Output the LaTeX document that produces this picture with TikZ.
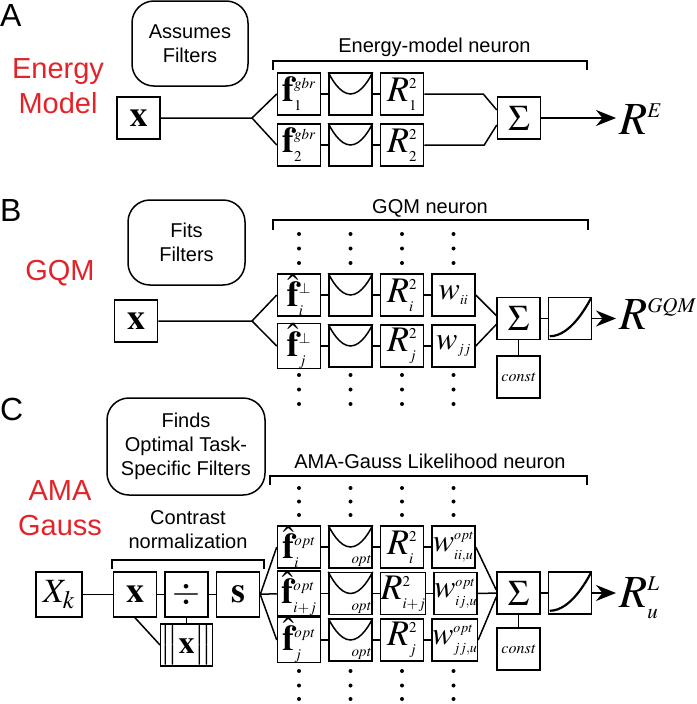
\documentclass[tikz,border=0pt]{standalone}
\usepackage{amsmath}
\usepackage{mathptmx}
\usepackage[no-math]{fontspec}
\setmainfont{Liberation Sans}
\usetikzlibrary{positioning,arrows.meta}
\DeclareMathSizes{36}{36}{15}{11}
\DeclareMathSizes{32}{32}{14}{10}
\DeclareMathSizes{46}{46}{21}{15}
\definecolor{modelred}{RGB}{226,36,42}

\tikzset{
  blk/.style={draw, line width=1.5pt, minimum width=43pt, minimum height=42pt, inner sep=0pt,
    font=\fontsize{36}{36}\selectfont},
  wgt/.style={blk, font=\fontsize{32}{32}\selectfont},
  bubble/.style={draw, line width=1.5pt, rounded corners=22pt, align=center,
    font=\fontsize{20}{24}\selectfont},
  modelname/.style={text=modelred, align=center, font=\fontsize{29}{35}\selectfont},
  panel/.style={anchor=base west, inner sep=0pt, font=\fontsize{32}{32}\selectfont},
  caption/.style={align=center, font=\fontsize{20}{24}\selectfont},
  outp/.style={anchor=base west, inner sep=3pt, font=\fontsize{46}{46}\selectfont},
  small/.style={font=\fontsize{16}{16}\selectfont},
  link/.style={line width=1.5pt},
  outarrow/.style={line width=1.5pt, -{Stealth[length=20pt,width=16pt]}},
}

\begin{document}
\begin{tikzpicture}[x=1pt, y=-1pt, node distance=7pt]
\useasboundingbox (0,0) rectangle (696,704);

% A: energy model
\node[panel] (pA) at (0,27) {A};
\node[modelname] (mA) at (58,86) {Energy\\Model};
\node[bubble, minimum width=116pt, minimum height=85pt] (hA) at (190,43.5) {Assumes\\Filters};
\node[blk] (xA) at (138.5,118) {$\mathbf{x}$};
\node[blk] (fA1) at (299,94) {$\mathbf{f}^{gbr}_{1}$};
\node[blk] (cA1) [right=of fA1] {};
\node[blk] (rA1) [right=of cA1] {$R^{2}_{1}$};
\node[blk] (fA2) at (299,145) {$\mathbf{f}^{gbr}_{2}$};
\node[blk] (cA2) [right=of fA2] {};
\node[blk] (rA2) [right=of cA2] {$R^{2}_{2}$};
\node[blk] (sA) at (519,118) {$\Sigma$};
\node[outp] (oA) at (616,134) {$R^{E}$};
\coordinate (bA) at (252,118);
\node[caption, anchor=base] (tA) at (434.5,52) {Energy-model neuron};
\draw[link] (273,70) |- (587,61) -- (587,70);

\draw[link] (xA) -- (bA) -- (fA1.west);
\draw[link] (bA) -- (fA2.west);
\draw[link] (fA1) -- (cA1) -- (rA1);
\draw[link] (fA2) -- (cA2) -- (rA2);
\draw[link] (rA1.east) -- ++(59pt,0pt) -- ([yshift=8pt]sA.west);
\draw[link] (rA2.east) -- ++(60pt,0pt) -- ([yshift=-7pt]sA.west);
\draw[outarrow] (sA) -- (sA -| oA.west);

% B: GQM
\node[panel] (pB) at (0,221) {B};
\node[modelname, anchor=base] (mB) at (60,280) {GQM};
\node[bubble, minimum width=117pt, minimum height=85pt] (hB) at (186.5,242.5) {Fits\\Filters};
\node[blk] (xB) at (136,321) {$\mathbf{x}$};
\node[blk] (fB1) at (299,295) {$\hat{\mathbf{f}}^{\perp}_{i}$};
\node[blk] (cB1) [right=of fB1] {};
\node[blk] (rB1) [right=of cB1] {$R^{2}_{i}$};
\node[wgt] (wB1) [right=of rB1] {$w_{ii}$};
\node[blk] (fB2) at (299,346) {$\hat{\mathbf{f}}^{\perp}_{j}$};
\node[blk] (cB2) [right=of fB2] {};
\node[blk] (rB2) [right=of cB2] {$R^{2}_{j}$};
\node[wgt] (wB2) [right=of rB2] {$w_{jj}$};
\node[blk] (sB) at (518.5,318.5) {$\Sigma$};
\node[blk] (nB) [right=of sB] {};
\node[blk, small] (kB) [below=15pt of sB] {$\mathit{const}$};
\node[outp] (oB) at (616,329) {$R^{GQM}$};
\coordinate (bB) at (252,321);
\node[caption, anchor=base] (tB) at (430,213) {GQM neuron};
\draw[link] (273,230) |- (588,220) -- (588,230);

\draw[link] (xB) -- (bB) -- (fB1.west);
\draw[link] (bB) -- (fB2.west);
\draw[link] (fB1) -- (cB1) -- (rB1) -- (wB1);
\draw[link] (fB2) -- (cB2) -- (rB2) -- (wB2);
\draw[link] (wB1.east) -- ([yshift=3pt]sB.west);
\draw[link] (wB2.east) -- ([yshift=-6pt]sB.west);
\draw[link] (sB) -- (nB);
\draw[link] (sB) -- (kB);
\draw[outarrow] (nB) -- (nB -| oB.west);
\foreach \c in {fB1,cB1,rB1,wB1}
  \foreach \y in {234,248.5,263,375,389.5,404}
    \fill (\c |- 0,\y) circle (2pt);

% C: AMA-Gauss
\node[panel] (pC) at (0,420) {C};
\node[modelname] (mC) at (60,508) {AMA\\Gauss};
\node[bubble, minimum width=158pt, minimum height=97pt] (hC) at (186,446.5) {Finds\\Optimal Task-\\Specific Filters};
\node[blk, minimum width=46pt, minimum height=45pt, font=\fontsize{34}{34}\selectfont] (kX) at (59,594.5) {$X_{k}$};
\node[blk, minimum height=45pt] (xC) at (135,594.5) {$\mathbf{x}$};
\node[blk, minimum height=45pt] (dC) [right=of xC] {$\div$};
\node[blk, minimum height=45pt] (sC) [right=of dC] {$\mathbf{s}$};
\node[wgt] (nmC) [below=5.5pt of dC] {$\big\|\mathbf{x}\big\|$};
\node[caption] (tN) at (188,530) {Contrast\\normalization};
\draw[link] (112,569) |- (264,560) -- (264,569);

\node[blk] (fC1) at (299,547) {$\hat{\mathbf{f}}^{opt}_{i}$};
\node[blk] (cC1) [right=of fC1] {};
\node[blk] (rC1) [right=of cC1] {$R^{2}_{i}$};
\node[wgt] (wC1) [right=of rC1] {$w^{opt}_{ii,u}$};
\node[blk] (fC2) at (299,593.5) {$\hat{\mathbf{f}}^{opt}_{i+j}$};
\node[blk] (cC2) [right=of fC2] {};
\node[blk] (rC2) [right=of cC2] {$R^{2}_{i+j}$};
\node[wgt] (wC2) [right=of rC2] {$w^{opt}_{ij,u}$};
\node[blk] (fC3) at (299,640) {$\hat{\mathbf{f}}^{opt}_{j}$};
\node[blk] (cC3) [right=of fC3] {};
\node[blk] (rC3) [right=of cC3] {$R^{2}_{j}$};
\node[wgt] (wC3) [right=of rC3] {$w^{opt}_{jj,u}$};
\node[blk] (sgC) at (518.5,593) {$\Sigma$};
\node[blk] (nC) [right=of sgC] {};
\node[blk, small] (kC) [below=12.5pt of sgC] {$\mathit{const}$};
\node[outp] (oC) at (616,607) {$R^{L}_{u}$};
\node[caption, anchor=base] (tC) at (430,468) {AMA-Gauss Likelihood neuron};
\draw[link] (270,485) |- (587,476) -- (587,485);

\draw[link] (kX) -- (xC) -- (dC) -- (sC);
\draw[link] (xC.south) -- (nmC.west);
\draw[link] (dC) -- (nmC);
\draw[link] (sC.east) -- (fC1.west);
\draw[link] (sC) -- (fC2);
\draw[link] (sC.east) -- (fC3.west);
\draw[link] (fC1) -- (cC1) -- (rC1) -- (wC1);
\draw[link] (fC2) -- (cC2) -- (rC2) -- (wC2);
\draw[link] (fC3) -- (cC3) -- (rC3) -- (wC3);
\draw[link] (wC1.east) -- ([yshift=3pt]sgC.west);
\draw[link] (wC2) -- (sgC);
\draw[link] (wC3.east) -- ([yshift=-4pt]sgC.west);
\draw[link] (sgC) -- (nC);
\draw[link] (sgC) -- (kC);
\draw[outarrow] (nC) -- (nC -| oC.west);
\foreach \c in {cC1,cC2,cC3}
  \node[anchor=south east, inner sep=1.5pt, font=\fontsize{15}{15}\selectfont] at (\c.south east) {$\mathit{opt}$};
\foreach \c in {fC1,cC1,rC1,wC1}
  \foreach \y in {488,501.5,515,671,685.5,699}
    \fill (\c |- 0,\y) circle (2pt);

% curves in the boxes
\foreach \c in {cA1,cA2,cB1,cB2,cC1,cC2,cC3}
  \draw[link] (\c.north west) parabola bend (\c.center) (\c.north east);
\foreach \c in {nB,nC}
  \draw[line width=2.2pt] ([shift={(2pt,4pt)}]\c.south west) parabola ([shift={(-1pt,-1pt)}]\c.north east);
\end{tikzpicture}
\end{document}
